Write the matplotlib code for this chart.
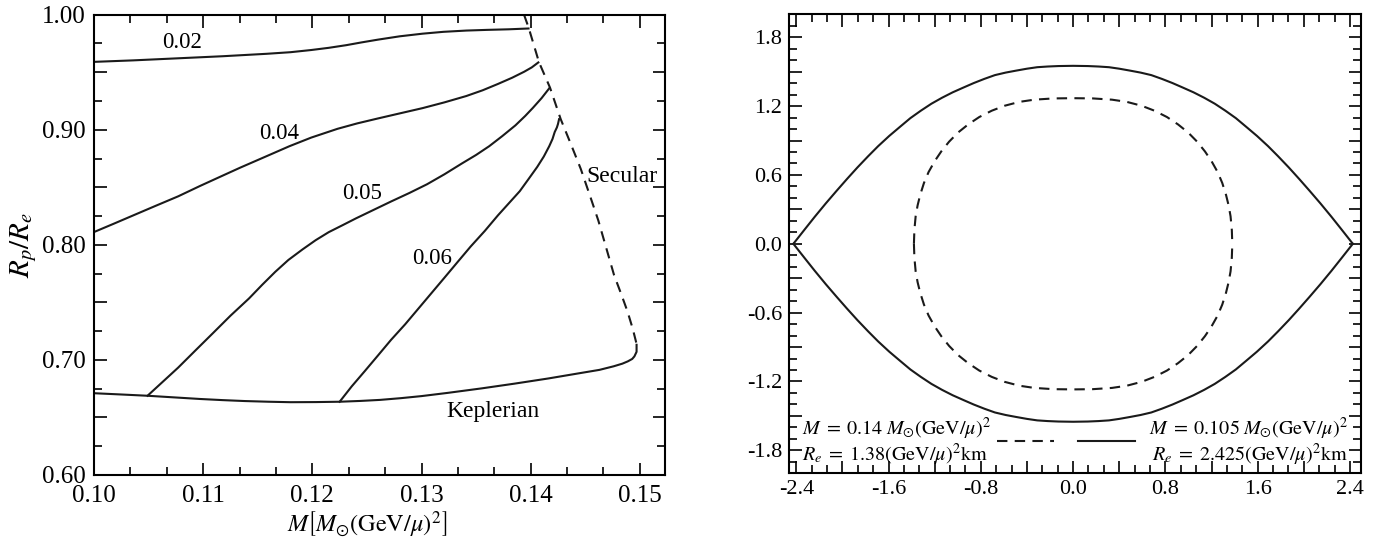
import matplotlib
matplotlib.use("Agg")
import matplotlib.pyplot as plt
from matplotlib.ticker import MultipleLocator, FuncFormatter

plt.rcParams['font.family'] = ['Liberation Serif', 'DejaVu Serif']
plt.rcParams['mathtext.fontset'] = 'stix'
plt.rcParams['axes.unicode_minus'] = False

# ---- left panel: R_p/R_e vs M for fixed angular velocities ----
m_002 = [0.1000, 0.1036, 0.1077, 0.1118, 0.1158, 0.1180, 0.1199, 0.1215, 0.1231, 0.1245, 0.1260, 0.1280,
         0.1301, 0.1320, 0.1341, 0.1360, 0.1380, 0.1398]
r_002 = [0.9590, 0.9603, 0.9621, 0.9639, 0.9660, 0.9674, 0.9693, 0.9712, 0.9735, 0.9759, 0.9783, 0.9812,
         0.9835, 0.9851, 0.9862, 0.9868, 0.9873, 0.9880]

m_004 = [0.1000, 0.1018, 0.1036, 0.1056, 0.1077, 0.1097, 0.1118, 0.1134, 0.1150, 0.1165, 0.1179, 0.1199,
         0.1223, 0.1241, 0.1260, 0.1280, 0.1301, 0.1321, 0.1341, 0.1356, 0.1370, 0.1383, 0.1394, 0.1401, 0.1407]
r_004 = [0.8111, 0.8183, 0.8256, 0.8337, 0.8421, 0.8511, 0.8602, 0.8671, 0.8737, 0.8799, 0.8857, 0.8932,
         0.9008, 0.9055, 0.9098, 0.9142, 0.9188, 0.9238, 0.9293, 0.9343, 0.9398, 0.9452, 0.9504, 0.9542, 0.9585]

m_005 = [0.1049, 0.1063, 0.1077, 0.1093, 0.1109, 0.1125, 0.1142, 0.1154, 0.1166, 0.1178, 0.1191, 0.1203,
         0.1215, 0.1228, 0.1240, 0.1256, 0.1272, 0.1289, 0.1305, 0.1321, 0.1337, 0.1350, 0.1362, 0.1374,
         0.1386, 0.1395, 0.1402, 0.1410, 0.1417]
r_005 = [0.6688, 0.6810, 0.6932, 0.7083, 0.7233, 0.7384, 0.7534, 0.7652, 0.7765, 0.7868, 0.7960, 0.8040,
         0.8110, 0.8172, 0.8230, 0.8303, 0.8376, 0.8451, 0.8526, 0.8613, 0.8707, 0.8781, 0.8857, 0.8945,
         0.9038, 0.9120, 0.9190, 0.9275, 0.9360]

m_006 = [0.1225, 0.1236, 0.1248, 0.1260, 0.1272, 0.1285, 0.1297, 0.1309, 0.1321, 0.1333, 0.1345, 0.1358,
         0.1370, 0.1380, 0.1390, 0.1398, 0.1406, 0.1412, 0.1417, 0.1420, 0.1422, 0.1424, 0.1425, 0.1426]
r_006 = [0.6636, 0.6769, 0.6902, 0.7037, 0.7173, 0.7309, 0.7444, 0.7579, 0.7714, 0.7850, 0.7985, 0.8121,
         0.8256, 0.8361, 0.8466, 0.8571, 0.8677, 0.8767, 0.8857, 0.8920, 0.8980, 0.9020, 0.9050, 0.9092]

m_kep = [0.1000, 0.1025, 0.1049, 0.1073, 0.1097, 0.1118, 0.1138, 0.1160, 0.1180, 0.1203, 0.1225, 0.1244,
         0.1262, 0.1281, 0.1300, 0.1324, 0.1355, 0.1385, 0.1416, 0.1446, 0.1463, 0.1476, 0.1484, 0.1489,
         0.1493, 0.1495, 0.1496, 0.1497, 0.1497]
r_kep = [0.6710, 0.6699, 0.6688, 0.6674, 0.6660, 0.6650, 0.6642, 0.6636, 0.6632, 0.6633, 0.6636, 0.6643,
         0.6652, 0.6667, 0.6685, 0.6713, 0.6752, 0.6793, 0.6838, 0.6886, 0.6913, 0.6944, 0.6967, 0.6987,
         0.7008, 0.7030, 0.7050, 0.7070, 0.7131]

m_sec = [0.13939, 0.13982, 0.14076, 0.14177, 0.14275, 0.14367, 0.14459, 0.14540, 0.14620, 0.14692,
         0.14764, 0.14830, 0.14887, 0.14935, 0.14972]
r_sec = [1.0000, 0.9885, 0.9587, 0.9366, 0.9092, 0.8878, 0.8659, 0.8435, 0.8210, 0.7973,
         0.7736, 0.7570, 0.7420, 0.7270, 0.7131]

omega_labels = ["0.02", "0.04", "0.05", "0.06"]
omega_label_pos = [(0.1081, 0.9755), (0.1170, 0.8971), (0.12456, 0.8443), (0.1310, 0.7881)]

# ---- right panel: meridional profiles (upper halves, left to right) ----
x_big = [-2.425, -2.327, -2.240, -2.144, -2.050, -1.960, -1.870, -1.777, -1.690, -1.594, -1.500,
         -1.411, -1.320, -1.228, -1.136, -1.044, -0.950, -0.861, -0.770, -0.678, -0.585, -0.495, -0.400,
         -0.311, -0.220, -0.128, 0.0,
         0.128, 0.220, 0.311, 0.400, 0.495, 0.585, 0.678, 0.770, 0.861, 0.950, 1.044, 1.136, 1.228, 1.320,
         1.411, 1.500, 1.594, 1.690, 1.777, 1.870, 1.960, 2.050, 2.144, 2.240, 2.327, 2.425]
z_big = [0.0, 0.125, 0.235, 0.352, 0.462, 0.565, 0.665, 0.763, 0.851, 0.940, 1.020,
         1.095, 1.160, 1.221, 1.273, 1.320, 1.362, 1.401, 1.437, 1.470, 1.492, 1.509, 1.526,
         1.539, 1.545, 1.549, 1.551,
         1.549, 1.545, 1.539, 1.526, 1.509, 1.492, 1.470, 1.437, 1.401, 1.362, 1.320, 1.273, 1.221, 1.160,
         1.095, 1.020, 0.940, 0.851, 0.763, 0.665, 0.565, 0.462, 0.352, 0.235, 0.125, 0.0]

x_small = [-1.380, -1.376, -1.365, -1.348, -1.326, -1.293, -1.253, -1.200, -1.143, -1.075, -0.997, -0.910,
           -0.813, -0.705, -0.594, -0.465, -0.337, -0.170, 0.0,
           0.170, 0.337, 0.465, 0.594, 0.705, 0.813, 0.910, 0.997, 1.075, 1.143, 1.200, 1.253, 1.293,
           1.326, 1.348, 1.365, 1.376, 1.380]
z_small = [0.0, 0.120, 0.240, 0.335, 0.425, 0.530, 0.625, 0.720, 0.805, 0.890, 0.970, 1.040,
           1.105, 1.160, 1.203, 1.237, 1.256, 1.267, 1.269,
           1.267, 1.256, 1.237, 1.203, 1.160, 1.105, 1.040, 0.970, 0.890, 0.805, 0.720, 0.625, 0.530,
           0.425, 0.335, 0.240, 0.120, 0.0]

LW = 1.5
DASH = (5, 3.5)
INK = '#1a1a1a'

fig = plt.figure(figsize=(13.79, 5.44), dpi=100)

# left panel
ax1 = fig.add_axes([0.0682, 0.127, 0.414, 0.846])
for m, r in [(m_002, r_002), (m_004, r_004), (m_005, r_005), (m_006, r_006), (m_kep, r_kep)]:
    ax1.plot(m, r, color=INK, lw=LW, solid_joinstyle='round')
ax1.plot(m_sec, r_sec, color=INK, lw=LW, dashes=DASH)
for lab, (xx, yy) in zip(omega_labels, omega_label_pos):
    ax1.text(xx, yy, lab, fontsize=16.5, ha='center', va='center')
ax1.text(0.1484, 0.859, "Secular", fontsize=17, ha='center', va='center')
ax1.text(0.1365, 0.6554, "Keplerian", fontsize=17, ha='center', va='center')

ax1.set_xlim(0.10, 0.1523)
ax1.set_ylim(0.60, 1.00)
ax1.xaxis.set_major_locator(MultipleLocator(0.01))
ax1.xaxis.set_minor_locator(MultipleLocator(0.01 / 3))
ax1.yaxis.set_major_locator(MultipleLocator(0.05))
ax1.yaxis.set_minor_locator(MultipleLocator(0.025))
ax1.xaxis.set_major_formatter(FuncFormatter(lambda v, p: "%.2f" % v))
ax1.yaxis.set_major_formatter(FuncFormatter(
    lambda v, p: "%.2f" % v if round(v / 0.05) % 2 == 0 else ""))
ax1.set_xlabel(r'$M\left[M_{\odot}(\mathrm{GeV}/\mu)^2\right]$', fontsize=17.5, labelpad=1)
ax1.xaxis.set_label_coords(0.478, -0.075)
ax1.set_ylabel(r'$R_p/R_e$', fontsize=21, labelpad=2)

# right panel
ax2 = fig.add_axes([0.5724, 0.130, 0.4149, 0.8437])
ax2.plot(x_big, z_big, color=INK, lw=LW, solid_joinstyle='round')
ax2.plot(x_big, [-z for z in z_big], color=INK, lw=LW, solid_joinstyle='round')
ax2.plot(x_small, z_small, color=INK, lw=LW, dashes=DASH)
ax2.plot(x_small, [-z for z in z_small], color=INK, lw=LW, dashes=DASH)
ax2.set_xlim(-2.46, 2.50)
ax2.set_ylim(-2.0, 2.0)
ax2.xaxis.set_major_locator(MultipleLocator(0.4))
ax2.xaxis.set_minor_locator(MultipleLocator(0.4 / 3))
ax2.yaxis.set_major_locator(MultipleLocator(0.3))
ax2.yaxis.set_minor_locator(MultipleLocator(0.1))
ax2.xaxis.set_major_formatter(FuncFormatter(
    lambda v, p: "%.1f" % (v + 0.0) if round(v / 0.4) % 2 == 0 else ""))
ax2.yaxis.set_major_formatter(FuncFormatter(
    lambda v, p: "%.1f" % (v + 0.0) if round(v / 0.3) % 2 == 0 else ""))

# legend built by hand: text on both sides, line samples in between
LEG = 14.5
ax2.text(0.022, 0.098, r'$M\;=\;0.14\;M_{\odot}(\mathrm{GeV}/\mu)^2$', transform=ax2.transAxes,
         fontsize=LEG, ha='left', va='center')
ax2.text(0.022, 0.039, r'$R_e\;=\;1.38(\mathrm{GeV}/\mu)^2\mathrm{km}$', transform=ax2.transAxes,
         fontsize=LEG, ha='left', va='center')
ax2.text(0.977, 0.098, r'$M\;=\;0.105\;M_{\odot}(\mathrm{GeV}/\mu)^2$', transform=ax2.transAxes,
         fontsize=LEG, ha='right', va='center')
ax2.text(0.977, 0.039, r'$R_e\;=\;2.425(\mathrm{GeV}/\mu)^2\mathrm{km}$', transform=ax2.transAxes,
         fontsize=LEG, ha='right', va='center')
ax2.plot([0.363, 0.463], [0.070, 0.070], transform=ax2.transAxes, color=INK, lw=LW, dashes=DASH)
ax2.plot([0.504, 0.604], [0.070, 0.070], transform=ax2.transAxes, color=INK, lw=LW)

for ax, ls in ((ax1, 18), (ax2, 16)):
    ax.tick_params(which='both', direction='in', top=True, right=True, labelsize=ls, width=1.2)
    ax.tick_params(which='major', length=9, pad=5)
    ax.tick_params(which='minor', length=5.5)
    for s in ax.spines.values():
        s.set_linewidth(1.5)
ax1.tick_params(axis='x', which='major', pad=7)
ax1.tick_params(axis='y', which='major', pad=6)

fig.savefig("out.png", dpi=100)
